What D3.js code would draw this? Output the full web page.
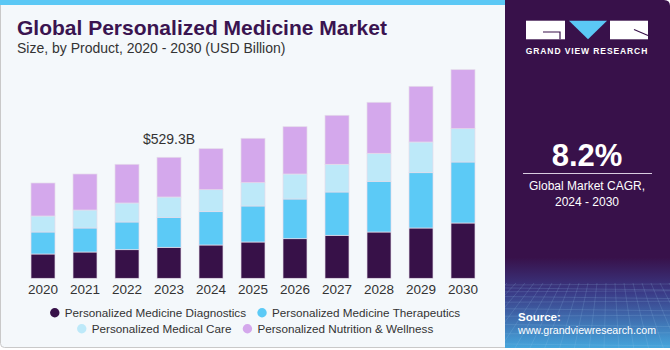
<!DOCTYPE html>
<html>
<head>
<meta charset="utf-8">
<script src="https://cdn.jsdelivr.net/npm/d3@7"></script>
<style>
  body { margin: 0; background: #ffffff; }
  svg { display: block; font-family: "Liberation Sans", Arial, sans-serif; }
</style>
</head>
<body>
<div class="vis"></div>
<script>
// chart data (USD Billion)
const years = ["2020", "2021", "2022", "2023", "2024", "2025", "2026", "2027", "2028", "2029", "2030"];
const diagnostics = [106.3, 115.0, 125.1, 135.6, 145.7, 158.8, 173.2, 188.1, 202.5, 220.0, 241.9];
const therapeutics = [96.2, 105.0, 121.2, 131.2, 145.7, 157.5, 173.6, 189.4, 221.8, 241.9, 266.8];
const medicalCare = [70.0, 78.7, 83.1, 88.8, 96.2, 101.9, 109.4, 121.2, 122.5, 134.3, 145.7];
const nutrition = [144.3, 157.5, 169.3, 173.7, 179.3, 194.2, 206.9, 214.3, 223.1, 243.6, 258.1];
const seriesNames = ["Personalized Medicine Diagnostics", "Personalized Medicine Therapeutics",
                     "Personalized Medical Care", "Personalized Nutrition & Wellness"];
const seriesColors = ["#371148", "#5ccaf6", "#bde9f9", "#d4a8ec"];
const highlightYear = "2023";
const highlightLabel = "$529.3B";
const cagr = "8.2%";

(function () {
    const width = 670, height = 350;
    const panelX = 505;

    const svg = d3.select('.vis').append('svg')
        .attr('width', width)
        .attr('height', height);

    // left panel
    svg.append('rect')
        .attr('x', 0.5).attr('y', 0.5)
        .attr('width', panelX + 4).attr('height', height - 3)
        .attr('rx', 4)
        .attr('fill', '#f4f8fb')
        .attr('stroke', '#c9c9c9');
    svg.append('rect')
        .attr('x', 0).attr('y', 0)
        .attr('width', panelX).attr('height', 5)
        .attr('fill', '#5bc8f5');

    // titles
    svg.append('text')
        .attr('x', 17).attr('y', 35)
        .attr('font-size', 21).attr('font-weight', 900)
        .attr('fill', '#3a1450')
        .text('Global Personalized Medicine Market');
    svg.append('text')
        .attr('x', 17).attr('y', 53)
        .attr('font-size', 14).attr('fill', '#333')
        .text('Size, by Product, 2020 - 2030 (USD Billion)');

    // build rows for stack
    const keys = seriesNames;
    const data = years.map(function (y, i) {
        return {
            year: y,
            [keys[0]]: diagnostics[i],
            [keys[1]]: therapeutics[i],
            [keys[2]]: medicalCare[i],
            [keys[3]]: nutrition[i]
        };
    });
    const stacked = d3.stack().keys(keys)(data);

    const xScale = d3.scaleBand()
        .domain(years)
        .range([31, 475])
        .paddingInner(18 / 42)
        .paddingOuter(0);

    const yScale = d3.scaleLinear()
        .domain([0, 1000])
        .range([278.3, 278.3 - 1000 / 4.374]);

    const color = d3.scaleOrdinal().domain(keys).range(seriesColors);

    const graph = svg.append('g');

    graph.selectAll('g.layer')
        .data(stacked)
        .enter().append('g')
            .attr('class', 'layer')
            .attr('fill', function (d) { return color(d.key); })
            .selectAll('rect')
            .data(function (d) { return d; })
            .enter().append('rect')
                .attr('x', function (d) { return xScale(d.data.year); })
                .attr('y', function (d) { return yScale(d[1]); })
                .attr('width', xScale.bandwidth())
                .attr('height', function (d) { return yScale(d[0]) - yScale(d[1]); })
                .attr('stroke', '#e4dcea')
                .attr('stroke-width', 0.7);

    // x axis labels
    const xAxis = d3.axisBottom(xScale).tickSize(0).tickPadding(6);
    const gx = graph.append('g')
        .attr('transform', `translate(0, ${yScale(0)})`)
        .call(xAxis);
    gx.select('.domain').remove();
    gx.selectAll('text')
        .attr('font-size', 13.5)
        .attr('fill', '#333')
        .attr('font-family', '"Liberation Sans", Arial, sans-serif');

    // total label above highlight bar
    const hi = years.indexOf(highlightYear);
    const total = stacked[stacked.length - 1][hi][1];
    svg.append('text')
        .attr('x', xScale(highlightYear) + xScale.bandwidth() / 2)
        .attr('y', yScale(total) - 13)
        .attr('text-anchor', 'middle')
        .attr('font-size', 14).attr('fill', '#333')
        .text(highlightLabel);

    // legend
    const legendRows = [[0, 1], [2, 3]];
    const legend = svg.append('g').attr('font-size', 11.7).attr('fill', '#333');
    const rowY = [317, 333];
    legendRows.forEach(function (row, r) {
        const g = legend.append('g');
        let x = 0;
        row.forEach(function (k) {
            g.append('circle')
                .attr('cx', x + 5).attr('cy', rowY[r] - 4.3)
                .attr('r', 4.7)
                .attr('fill', seriesColors[k]);
            const t = g.append('text')
                .attr('x', x + 15).attr('y', rowY[r])
                .text(seriesNames[k]);
            x += 15 + t.node().getComputedTextLength() + 11;
        });
        const w = x - 11;
        g.attr('transform', `translate(${(255 - w / 2)}, 0)`);
    });

    // right panel
    const defs = svg.append('defs');
    const grad = defs.append('linearGradient')
        .attr('id', 'panelGrad')
        .attr('x1', 0).attr('y1', 0).attr('x2', 0).attr('y2', 1);
    grad.append('stop').attr('offset', '0%').attr('stop-color', '#38114a');
    grad.append('stop').attr('offset', '74%').attr('stop-color', '#38114a');
    grad.append('stop').attr('offset', '84%').attr('stop-color', '#3a3a86');
    grad.append('stop').attr('offset', '100%').attr('stop-color', '#45a6dc');

    defs.append('clipPath').attr('id', 'panelClip')
        .append('path')
        .attr('d', `M${panelX},0 H${width - 6} Q${width},0 ${width},6 V${height - 2} H${panelX} Z`);

    const panel = svg.append('g').attr('clip-path', 'url(#panelClip)');
    panel.append('rect')
        .attr('x', panelX).attr('y', 0)
        .attr('width', width - panelX).attr('height', height - 2)
        .attr('fill', 'url(#panelGrad)');

    // grid texture at the bottom of the panel
    const grid = panel.append('g')
        .attr('stroke', '#9fc9ee')
        .attr('stroke-opacity', 0.25)
        .attr('stroke-width', 0.7)
        .attr('fill', 'none');
    d3.range(0, 14).forEach(function (i) {
        const yy = 285 + i * i * 0.45 + i * 2.5;
        grid.append('line')
            .attr('x1', panelX).attr('x2', width)
            .attr('y1', yy).attr('y2', yy + (i % 2 ? 2 : -1));
    });
    d3.range(-10, 22).forEach(function (i) {
        const xt = panelX + i * 9;
        grid.append('line')
            .attr('x1', xt + 20).attr('y1', 283)
            .attr('x2', xt + (i - 6) * 6).attr('y2', height);
    });

    // logo
    const logo = panel.append('g');
    logo.append('rect').attr('x', 526).attr('y', 20.7).attr('width', 39).attr('height', 18.6).attr('fill', '#fff');
    logo.append('path').attr('d', 'M543,32 H560 V39.3').attr('stroke', '#38114a').attr('stroke-width', 1.2).attr('fill', 'none');
    logo.append('path').attr('d', 'M569,20.7 L607,20.7 L588,39.3 Z').attr('fill', '#5bc8f5');
    logo.append('rect').attr('x', 610).attr('y', 20.7).attr('width', 38).attr('height', 18.6).attr('fill', '#fff');
    logo.append('path').attr('d', 'M634,29.5 L648,35.5').attr('stroke', '#38114a').attr('stroke-width', 1.2);
    logo.append('text')
        .attr('x', 587).attr('y', 54)
        .attr('text-anchor', 'middle')
        .attr('font-size', 8.5).attr('font-weight', 'bold')
        .attr('letter-spacing', 0.9)
        .attr('fill', '#fff')
        .text('GRAND VIEW RESEARCH');

    panel.append('text')
        .attr('x', 587).attr('y', 166)
        .attr('text-anchor', 'middle')
        .attr('font-size', 31).attr('font-weight', 'bold')
        .attr('fill', '#fff')
        .text(cagr);
    panel.append('line')
        .attr('x1', 523).attr('x2', 652)
        .attr('y1', 173.5).attr('y2', 173.5)
        .attr('stroke', '#d8cde0').attr('stroke-width', 1);
    panel.append('text')
        .attr('x', 587).attr('y', 190)
        .attr('text-anchor', 'middle')
        .attr('font-size', 12).attr('fill', '#fff')
        .text('Global Market CAGR,');
    panel.append('text')
        .attr('x', 587).attr('y', 206)
        .attr('text-anchor', 'middle')
        .attr('font-size', 12).attr('fill', '#fff')
        .text('2024 - 2030');

    panel.append('text')
        .attr('x', 518).attr('y', 321)
        .attr('font-size', 11.5).attr('font-weight', 'bold')
        .attr('fill', '#fff')
        .text('Source:');
    panel.append('text')
        .attr('x', 518).attr('y', 334)
        .attr('font-size', 11).attr('fill', '#fff')
        .attr('textLength', 138).attr('lengthAdjust', 'spacingAndGlyphs')
        .text('www.grandviewresearch.com');
} (d3));
</script>
</body>
</html>
